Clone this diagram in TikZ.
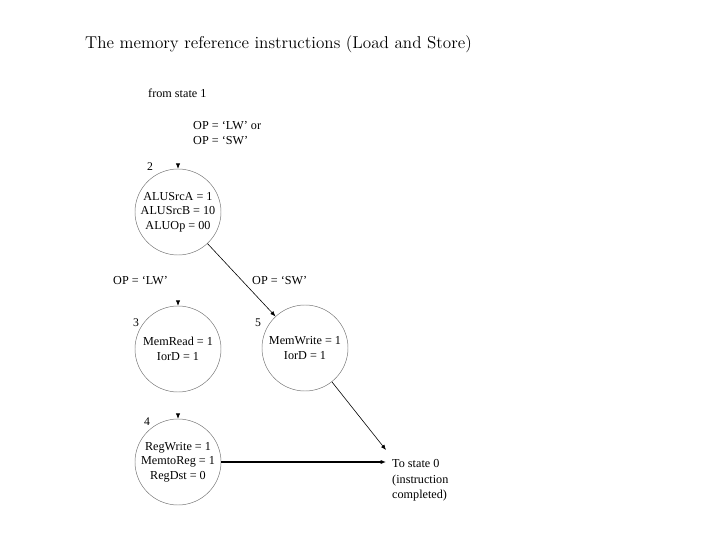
\documentclass[tikz,border=0pt]{standalone}
\usepackage{fontspec}
\newfontfamily\timesf[Ligatures=TeX]{Liberation Serif}
\usetikzlibrary{arrows.meta}

\begin{document}
\begin{tikzpicture}[x=0.03cm, y=-0.03cm, >={Latex[length=4.5pt,width=3.6pt]},
    state/.style={circle, draw=black!55, line width=0.4pt, minimum size=2.58cm,
      inner sep=0pt, align=center, font=\timesf\fontsize{10.4}{12.5}\selectfont},
    lbl/.style={inner sep=0pt, align=left, font=\timesf\fontsize{10.4}{13.5}\selectfont},
    num/.style={inner sep=0pt, font=\timesf\fontsize{10}{12}\selectfont},
    link/.style={->, line width=0.5pt}]
  \useasboundingbox (0,0) rectangle (720,540);

  \node[anchor=west, inner sep=0pt, font=\fontsize{14.6}{17}\selectfont] (title) at (85,44)
    {The memory reference instructions (Load and Store)};

  % incoming condition from state 1
  \node[lbl, anchor=west] (from) at (148,93) {from state 1};
  \node[lbl, anchor=west] (cond) at (193,133) {OP = `LW' or\\OP = `SW'};

  % the four states
  \node[state] (s2) at (178,212) {ALUSrcA = 1\\ALUSrcB = 10\\ALUOp = 00};
  \node[state] (s3) at (178,349) {MemRead = 1\\IorD = 1};
  \node[state] (s5) at (305,348) {MemWrite = 1\\IorD = 1};
  \node[state] (s4) at (178,462) {RegWrite = 1\\MemtoReg = 1\\RegDst = 0};

  \node[num] (n2) at (150,167) {2};
  \node[num] (n3) at (136,323) {3};
  \node[num] (n5) at (258,323) {5};
  \node[num] (n4) at (147,422) {4};

  \node[lbl, anchor=west] (lw) at (113,281) {OP = `LW'};
  \node[lbl, anchor=west] (sw) at (252,281) {OP = `SW'};

  % exit to state 0
  \node[lbl, anchor=north west] (done) at (392,459) {To state 0\\(instruction\\completed)};
  \coordinate (t0) at (386,462);
  \coordinate (t1) at (386,450);

  % entry arrowheads only
  \draw[link] ([yshift=2pt]s2.north) -- (s2.north);
  \draw[link] ([yshift=2pt]s3.north) -- (s3.north);
  \draw[link] ([yshift=2pt]s4.north) -- (s4.north);

  \draw[link] (s2) -- (s5);
  \draw[link] (s5) -- (t1);
  \draw[link, line width=0.9pt] (s4) -- (t0);
\end{tikzpicture}
\end{document}
